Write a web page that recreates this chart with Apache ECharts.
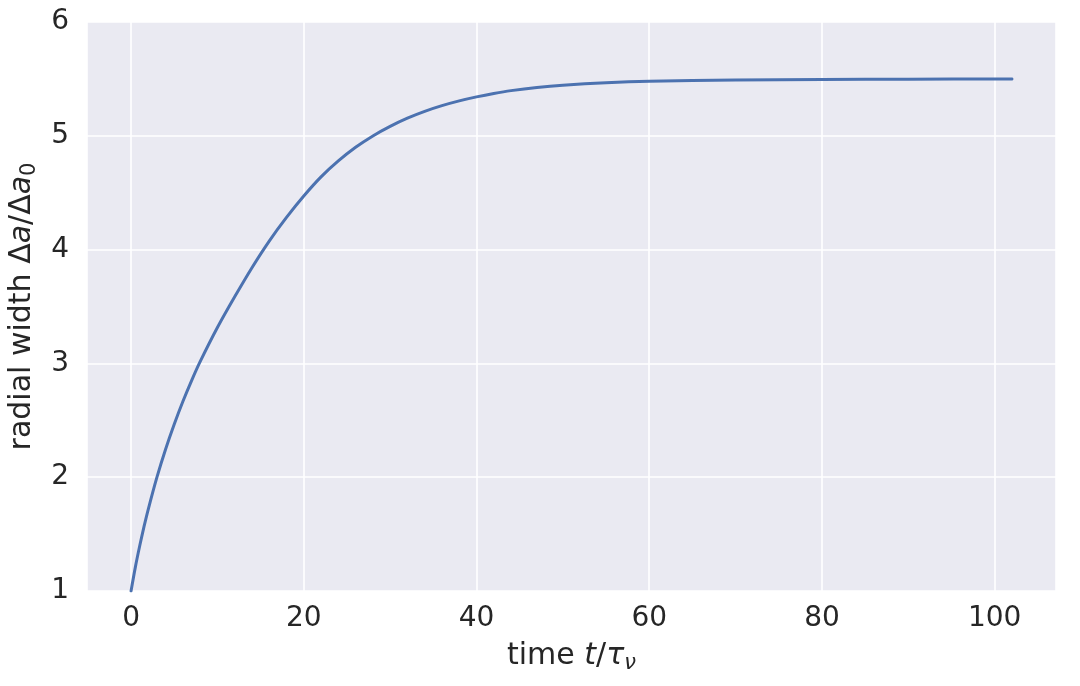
<!DOCTYPE html>
<html>
<head>
<meta charset="utf-8">
<script src="https://cdn.jsdelivr.net/npm/echarts@6/dist/echarts.min.js"></script>
<style>
html,body{margin:0;padding:0;background:#ffffff;}
#chart{width:1080px;height:686px;}
</style>
</head>
<body>
<div id="chart"></div>
<script>
// time t / tau_nu
const timeValues  = [0, 0.5, 1, 1.5, 2, 3, 4, 5, 6, 7, 8, 10, 12, 14, 16, 18, 20, 22, 24, 26, 28, 30, 32, 34, 36, 38, 40, 42, 44, 47, 50, 55, 60, 70, 80, 90, 102];
// radial width Δa/Δa0
const widthValues = [1.00, 1.21, 1.395, 1.565, 1.72, 2.00, 2.245, 2.465, 2.665, 2.847, 3.015, 3.315, 3.585, 3.841, 4.075, 4.283, 4.471, 4.639, 4.779, 4.899, 4.999, 5.083, 5.155, 5.215, 5.265, 5.307, 5.342, 5.372, 5.397, 5.425, 5.445, 5.467, 5.48, 5.49, 5.495, 5.498, 5.50];
const xTickLabels = ['0', '20', '40', '60', '80', '100'];
const yTickLabels = ['1', '2', '3', '4', '5', '6'];

const FONT = 'DejaVu Sans';
const TXT = '#262626';

const seriesData = timeValues.map((t, i) => [t, widthValues[i]]);

const chart = echarts.init(document.getElementById('chart'), null, {renderer: 'canvas'});
chart.setOption({
  backgroundColor: '#ffffff',
  animation: false,
  grid: {
    left: 87, right: 24, top: 22, bottom: 95,
    show: true, backgroundColor: '#EAEAF2', borderWidth: 0,
    containLabel: false,
    outerBoundsMode: 'none'
  },
  xAxis: {
    type: 'value',
    min: -5.1, max: 107.1,
    minInterval: 20, maxInterval: 20,
    axisLine: {show: false},
    axisTick: {show: false},
    splitLine: {show: true, lineStyle: {color: '#ffffff', width: 1.6}},
    axisLabel: {
      show: true, margin: 14, color: TXT, fontFamily: FONT, fontSize: 28,
      showMinLabel: false, showMaxLabel: false,
      formatter: v => { const s = String(Math.round(v)); return xTickLabels.includes(s) && Math.abs(v - Math.round(v)) < 1e-6 ? s : ''; }
    },
    name: '{n|time }{i|t}{n|/}{i|τ}{s|ν}',
    nameLocation: 'middle',
    nameGap: 46,
    nameTextStyle: {
      color: TXT,
      rich: {
        n: {fontFamily: FONT, fontSize: 30, color: TXT, lineHeight: 36},
        i: {fontFamily: FONT, fontSize: 30, fontStyle: 'italic', color: TXT, lineHeight: 36},
        s: {fontFamily: FONT, fontSize: 21, fontStyle: 'italic', color: TXT, lineHeight: 22, padding: [15, 0, 0, 0]}
      }
    }
  },
  yAxis: {
    type: 'value',
    min: 1, max: 6, interval: 1,
    axisLine: {show: false},
    axisTick: {show: false},
    splitLine: {show: true, lineStyle: {color: '#ffffff', width: 1.6}},
    axisLabel: {
      show: true, margin: 18, color: TXT, fontFamily: FONT, fontSize: 28,
      formatter: v => { const s = String(Math.round(v)); return yTickLabels.includes(s) ? s : ''; }
    },
    name: '{n|radial width Δ}{i|a}{n|/Δ}{i|a}{s|0}',
    nameLocation: 'middle',
    nameRotate: 90,
    nameGap: 30,
    nameTextStyle: {
      color: TXT,
      rich: {
        n: {fontFamily: FONT, fontSize: 30, color: TXT, lineHeight: 36},
        i: {fontFamily: FONT, fontSize: 30, fontStyle: 'italic', color: TXT, lineHeight: 36},
        s: {fontFamily: FONT, fontSize: 21, color: TXT, lineHeight: 22, padding: [15, 0, 0, 0]}
      }
    }
  },
  series: [{
    type: 'line',
    data: seriesData,
    showSymbol: false,
    smooth: 0.3,
    lineStyle: {color: '#4C72B0', width: 3, cap: 'round', join: 'round'},
    itemStyle: {color: '#4C72B0'},
    clip: true
  }]
});
</script>
</body>
</html>
